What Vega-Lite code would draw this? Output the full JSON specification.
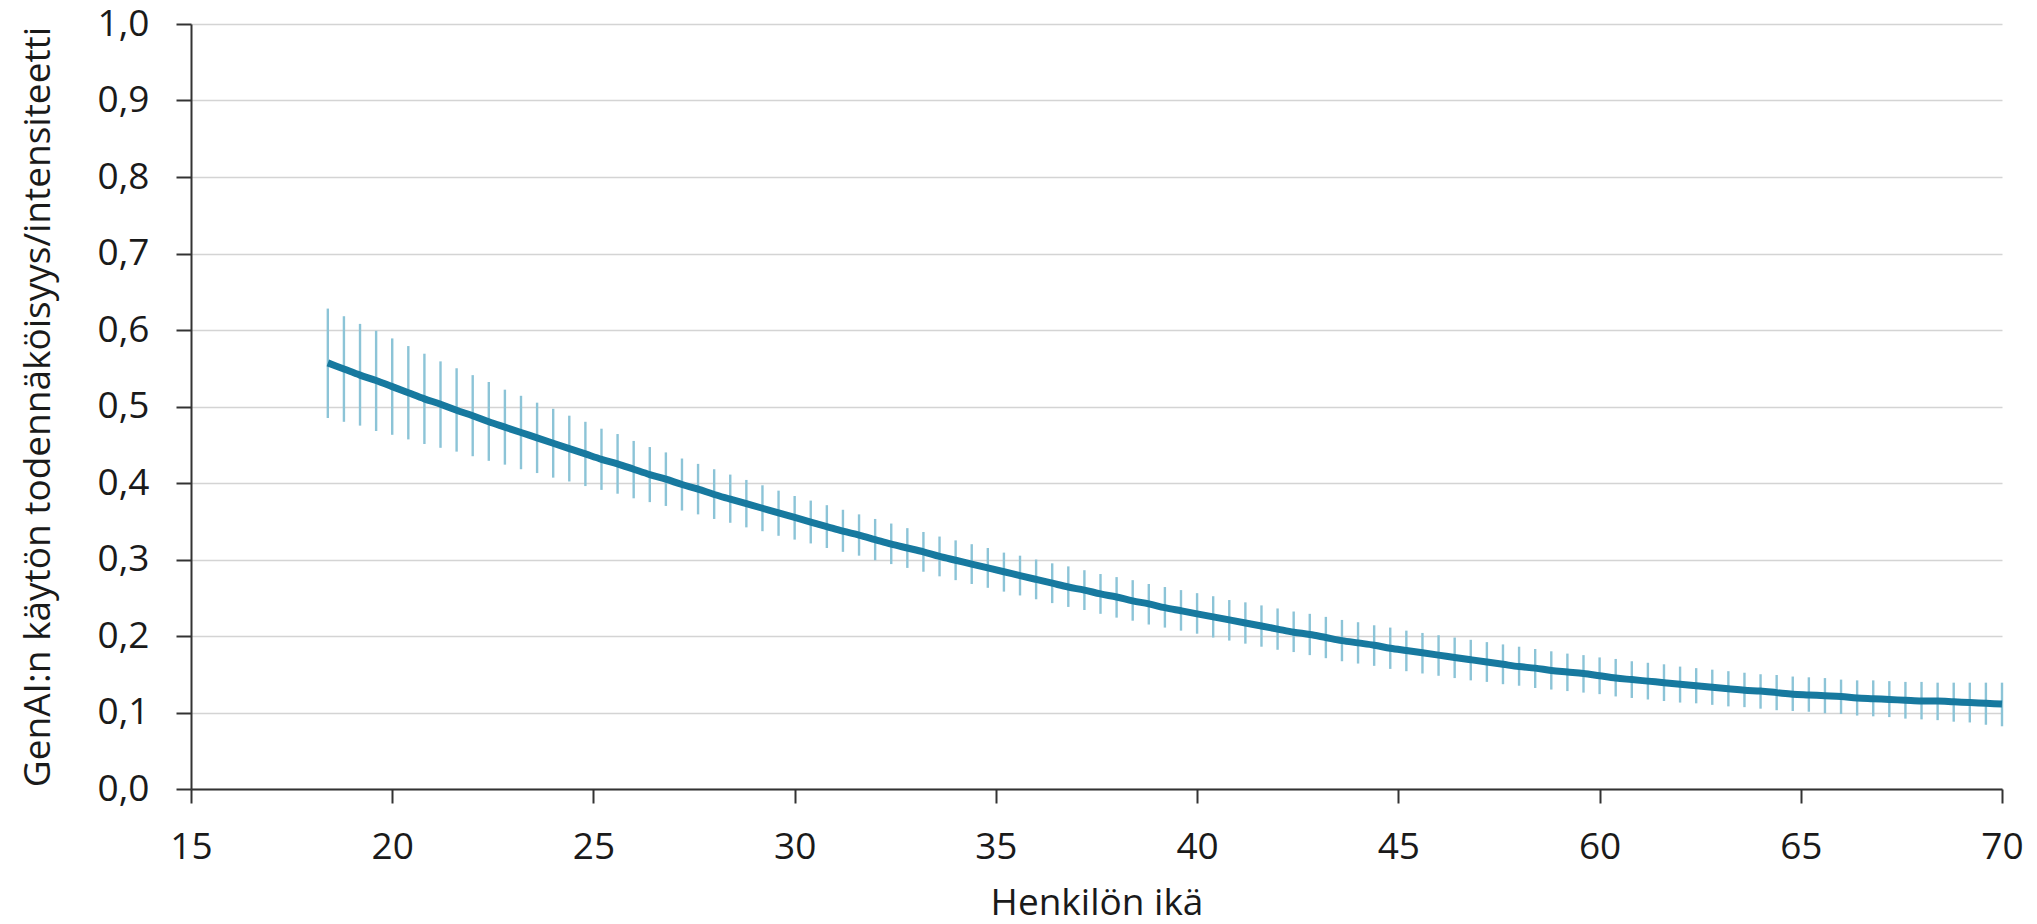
{
  "$schema": "https://vega.github.io/schema/vega-lite/v6.json",
  "autosize": {"type": "none"},
  "padding": {"left": 191, "top": 24, "right": 35, "bottom": 135},
  "width": 1811,
  "height": 765,
  "background": "white",
  "config": {"view": {"stroke": null}, "font": "Open Sans"},
  "data": {"values": [
    {"ika": 18.4, "arvio": 0.557, "ala": 0.485, "yla": 0.628},
    {"ika": 18.8, "arvio": 0.549, "ala": 0.480, "yla": 0.618},
    {"ika": 19.2, "arvio": 0.541, "ala": 0.475, "yla": 0.608},
    {"ika": 19.6, "arvio": 0.534, "ala": 0.468, "yla": 0.599},
    {"ika": 20.0, "arvio": 0.526, "ala": 0.463, "yla": 0.589},
    {"ika": 20.4, "arvio": 0.518, "ala": 0.457, "yla": 0.579},
    {"ika": 20.8, "arvio": 0.510, "ala": 0.451, "yla": 0.569},
    {"ika": 21.2, "arvio": 0.503, "ala": 0.446, "yla": 0.559},
    {"ika": 21.6, "arvio": 0.495, "ala": 0.441, "yla": 0.550},
    {"ika": 22.0, "arvio": 0.488, "ala": 0.435, "yla": 0.541},
    {"ika": 22.4, "arvio": 0.480, "ala": 0.429, "yla": 0.532},
    {"ika": 22.8, "arvio": 0.473, "ala": 0.424, "yla": 0.522},
    {"ika": 23.2, "arvio": 0.466, "ala": 0.418, "yla": 0.514},
    {"ika": 23.6, "arvio": 0.459, "ala": 0.413, "yla": 0.505},
    {"ika": 24.0, "arvio": 0.452, "ala": 0.407, "yla": 0.497},
    {"ika": 24.4, "arvio": 0.445, "ala": 0.402, "yla": 0.488},
    {"ika": 24.8, "arvio": 0.438, "ala": 0.396, "yla": 0.480},
    {"ika": 25.2, "arvio": 0.431, "ala": 0.391, "yla": 0.471},
    {"ika": 25.6, "arvio": 0.425, "ala": 0.386, "yla": 0.464},
    {"ika": 26.0, "arvio": 0.418, "ala": 0.380, "yla": 0.455},
    {"ika": 26.4, "arvio": 0.411, "ala": 0.375, "yla": 0.447},
    {"ika": 26.8, "arvio": 0.405, "ala": 0.370, "yla": 0.440},
    {"ika": 27.2, "arvio": 0.398, "ala": 0.364, "yla": 0.432},
    {"ika": 27.6, "arvio": 0.392, "ala": 0.359, "yla": 0.425},
    {"ika": 28.0, "arvio": 0.385, "ala": 0.353, "yla": 0.418},
    {"ika": 28.4, "arvio": 0.379, "ala": 0.348, "yla": 0.411},
    {"ika": 28.8, "arvio": 0.373, "ala": 0.342, "yla": 0.404},
    {"ika": 29.2, "arvio": 0.367, "ala": 0.337, "yla": 0.397},
    {"ika": 29.6, "arvio": 0.361, "ala": 0.331, "yla": 0.390},
    {"ika": 30.0, "arvio": 0.355, "ala": 0.326, "yla": 0.383},
    {"ika": 30.4, "arvio": 0.349, "ala": 0.321, "yla": 0.377},
    {"ika": 30.8, "arvio": 0.343, "ala": 0.315, "yla": 0.371},
    {"ika": 31.2, "arvio": 0.337, "ala": 0.310, "yla": 0.365},
    {"ika": 31.6, "arvio": 0.332, "ala": 0.305, "yla": 0.359},
    {"ika": 32.0, "arvio": 0.326, "ala": 0.299, "yla": 0.353},
    {"ika": 32.4, "arvio": 0.320, "ala": 0.294, "yla": 0.347},
    {"ika": 32.8, "arvio": 0.315, "ala": 0.289, "yla": 0.341},
    {"ika": 33.2, "arvio": 0.310, "ala": 0.284, "yla": 0.336},
    {"ika": 33.6, "arvio": 0.304, "ala": 0.278, "yla": 0.330},
    {"ika": 34.0, "arvio": 0.299, "ala": 0.273, "yla": 0.325},
    {"ika": 34.4, "arvio": 0.294, "ala": 0.268, "yla": 0.320},
    {"ika": 34.8, "arvio": 0.289, "ala": 0.263, "yla": 0.315},
    {"ika": 35.2, "arvio": 0.284, "ala": 0.258, "yla": 0.309},
    {"ika": 35.6, "arvio": 0.279, "ala": 0.253, "yla": 0.305},
    {"ika": 36.0, "arvio": 0.274, "ala": 0.248, "yla": 0.300},
    {"ika": 36.4, "arvio": 0.269, "ala": 0.243, "yla": 0.295},
    {"ika": 36.8, "arvio": 0.264, "ala": 0.238, "yla": 0.291},
    {"ika": 37.2, "arvio": 0.260, "ala": 0.234, "yla": 0.286},
    {"ika": 37.6, "arvio": 0.255, "ala": 0.229, "yla": 0.281},
    {"ika": 38.0, "arvio": 0.251, "ala": 0.224, "yla": 0.277},
    {"ika": 38.4, "arvio": 0.246, "ala": 0.220, "yla": 0.273},
    {"ika": 38.8, "arvio": 0.242, "ala": 0.215, "yla": 0.268},
    {"ika": 39.2, "arvio": 0.237, "ala": 0.211, "yla": 0.264},
    {"ika": 39.6, "arvio": 0.233, "ala": 0.207, "yla": 0.260},
    {"ika": 40.0, "arvio": 0.229, "ala": 0.203, "yla": 0.256},
    {"ika": 40.4, "arvio": 0.225, "ala": 0.198, "yla": 0.252},
    {"ika": 40.8, "arvio": 0.221, "ala": 0.194, "yla": 0.247},
    {"ika": 41.2, "arvio": 0.217, "ala": 0.190, "yla": 0.244},
    {"ika": 41.6, "arvio": 0.213, "ala": 0.186, "yla": 0.240},
    {"ika": 42.0, "arvio": 0.209, "ala": 0.182, "yla": 0.236},
    {"ika": 42.4, "arvio": 0.205, "ala": 0.179, "yla": 0.232},
    {"ika": 42.8, "arvio": 0.202, "ala": 0.175, "yla": 0.229},
    {"ika": 43.2, "arvio": 0.198, "ala": 0.171, "yla": 0.225},
    {"ika": 43.6, "arvio": 0.194, "ala": 0.167, "yla": 0.221},
    {"ika": 44.0, "arvio": 0.191, "ala": 0.164, "yla": 0.218},
    {"ika": 44.4, "arvio": 0.188, "ala": 0.161, "yla": 0.214},
    {"ika": 44.8, "arvio": 0.184, "ala": 0.157, "yla": 0.211},
    {"ika": 45.6, "arvio": 0.181, "ala": 0.154, "yla": 0.207},
    {"ika": 46.8, "arvio": 0.178, "ala": 0.151, "yla": 0.204},
    {"ika": 48.0, "arvio": 0.175, "ala": 0.148, "yla": 0.201},
    {"ika": 49.2, "arvio": 0.172, "ala": 0.145, "yla": 0.198},
    {"ika": 50.4, "arvio": 0.169, "ala": 0.142, "yla": 0.195},
    {"ika": 51.6, "arvio": 0.166, "ala": 0.140, "yla": 0.192},
    {"ika": 52.8, "arvio": 0.163, "ala": 0.137, "yla": 0.189},
    {"ika": 54.0, "arvio": 0.160, "ala": 0.135, "yla": 0.186},
    {"ika": 55.2, "arvio": 0.158, "ala": 0.132, "yla": 0.183},
    {"ika": 56.4, "arvio": 0.155, "ala": 0.130, "yla": 0.180},
    {"ika": 57.6, "arvio": 0.153, "ala": 0.128, "yla": 0.177},
    {"ika": 58.8, "arvio": 0.151, "ala": 0.126, "yla": 0.175},
    {"ika": 60.0, "arvio": 0.148, "ala": 0.124, "yla": 0.172},
    {"ika": 60.4, "arvio": 0.145, "ala": 0.121, "yla": 0.170},
    {"ika": 60.8, "arvio": 0.143, "ala": 0.119, "yla": 0.167},
    {"ika": 61.2, "arvio": 0.141, "ala": 0.117, "yla": 0.165},
    {"ika": 61.6, "arvio": 0.139, "ala": 0.115, "yla": 0.163},
    {"ika": 62.0, "arvio": 0.137, "ala": 0.113, "yla": 0.160},
    {"ika": 62.4, "arvio": 0.135, "ala": 0.112, "yla": 0.158},
    {"ika": 62.8, "arvio": 0.133, "ala": 0.110, "yla": 0.156},
    {"ika": 63.2, "arvio": 0.131, "ala": 0.108, "yla": 0.154},
    {"ika": 63.6, "arvio": 0.129, "ala": 0.107, "yla": 0.152},
    {"ika": 64.0, "arvio": 0.128, "ala": 0.105, "yla": 0.150},
    {"ika": 64.4, "arvio": 0.126, "ala": 0.103, "yla": 0.149},
    {"ika": 64.8, "arvio": 0.124, "ala": 0.102, "yla": 0.147},
    {"ika": 65.2, "arvio": 0.123, "ala": 0.101, "yla": 0.146},
    {"ika": 65.6, "arvio": 0.122, "ala": 0.099, "yla": 0.145},
    {"ika": 66.0, "arvio": 0.121, "ala": 0.098, "yla": 0.143},
    {"ika": 66.4, "arvio": 0.119, "ala": 0.096, "yla": 0.142},
    {"ika": 66.8, "arvio": 0.118, "ala": 0.095, "yla": 0.142},
    {"ika": 67.2, "arvio": 0.117, "ala": 0.094, "yla": 0.141},
    {"ika": 67.6, "arvio": 0.116, "ala": 0.092, "yla": 0.140},
    {"ika": 68.0, "arvio": 0.115, "ala": 0.091, "yla": 0.140},
    {"ika": 68.4, "arvio": 0.115, "ala": 0.090, "yla": 0.139},
    {"ika": 68.8, "arvio": 0.114, "ala": 0.088, "yla": 0.139},
    {"ika": 69.2, "arvio": 0.113, "ala": 0.087, "yla": 0.139},
    {"ika": 69.6, "arvio": 0.112, "ala": 0.084, "yla": 0.139},
    {"ika": 70.0, "arvio": 0.111, "ala": 0.082, "yla": 0.139}
  ]},
  "layer": [
    {
      "mark": {"type": "rule", "color": "#8cc4d7", "strokeWidth": 2.4},
      "encoding": {
        "x": {
          "field": "ika",
          "type": "quantitative",
          "scale": {"domain": [15, 45, 60, 70], "range": [0, 1207.3, 1408.6, 1811], "nice": false, "zero": false},
          "axis": {
            "title": "Henkilön ikä",
            "values": [15, 20, 25, 30, 35, 40, 45, 60, 65, 70],
            "grid": false,
            "domainColor": "#333333",
            "domainWidth": 2,
            "tickColor": "#333333",
            "tickWidth": 2,
            "tickSize": 14,
            "labelFont": "Open Sans",
            "labelFontSize": 37,
            "labelColor": "#1a1a1a",
            "labelPadding": 26,
            "labelFlush": false,
            "labelOverlap": false,
            "titleFont": "Open Sans",
            "titleFontSize": 37,
            "titleFontWeight": "normal",
            "titleColor": "#1a1a1a",
            "titleY": 125,
            "titleBaseline": "alphabetic"
          }
        },
        "y": {
          "field": "ala",
          "type": "quantitative",
          "scale": {"domain": [0, 1], "nice": false},
          "axis": {
            "title": "GenAI:n käytön todennäköisyys/intensiteetti",
            "values": [0, 0.1, 0.2, 0.3, 0.4, 0.5, 0.6, 0.7, 0.8, 0.9, 1.0],
            "labelExpr": "replace(format(datum.value, '.1f'), '.', ',')",
            "grid": true,
            "gridColor": "#d4d4d4",
            "gridWidth": 1.6,
            "domainColor": "#333333",
            "domainWidth": 2,
            "tickColor": "#333333",
            "tickWidth": 2,
            "tickSize": 15,
            "labelFont": "Open Sans",
            "labelFontSize": 37,
            "labelColor": "#1a1a1a",
            "labelPadding": 27,
            "labelFlush": false,
            "labelOverlap": false,
            "titleFont": "Open Sans",
            "titleFontSize": 37,
            "titleFontWeight": "normal",
            "titleColor": "#1a1a1a",
            "titleAngle": -90,
            "titleX": -142,
            "titleY": 382.5,
            "titleAlign": "center",
            "titleBaseline": "alphabetic"
          }
        },
        "y2": {"field": "yla"}
      }
    },
    {
      "mark": {"type": "line", "color": "#17799f", "strokeWidth": 7, "interpolate": "monotone"},
      "encoding": {
        "x": {"field": "ika", "type": "quantitative"},
        "y": {"field": "arvio", "type": "quantitative"}
      }
    }
  ]
}
